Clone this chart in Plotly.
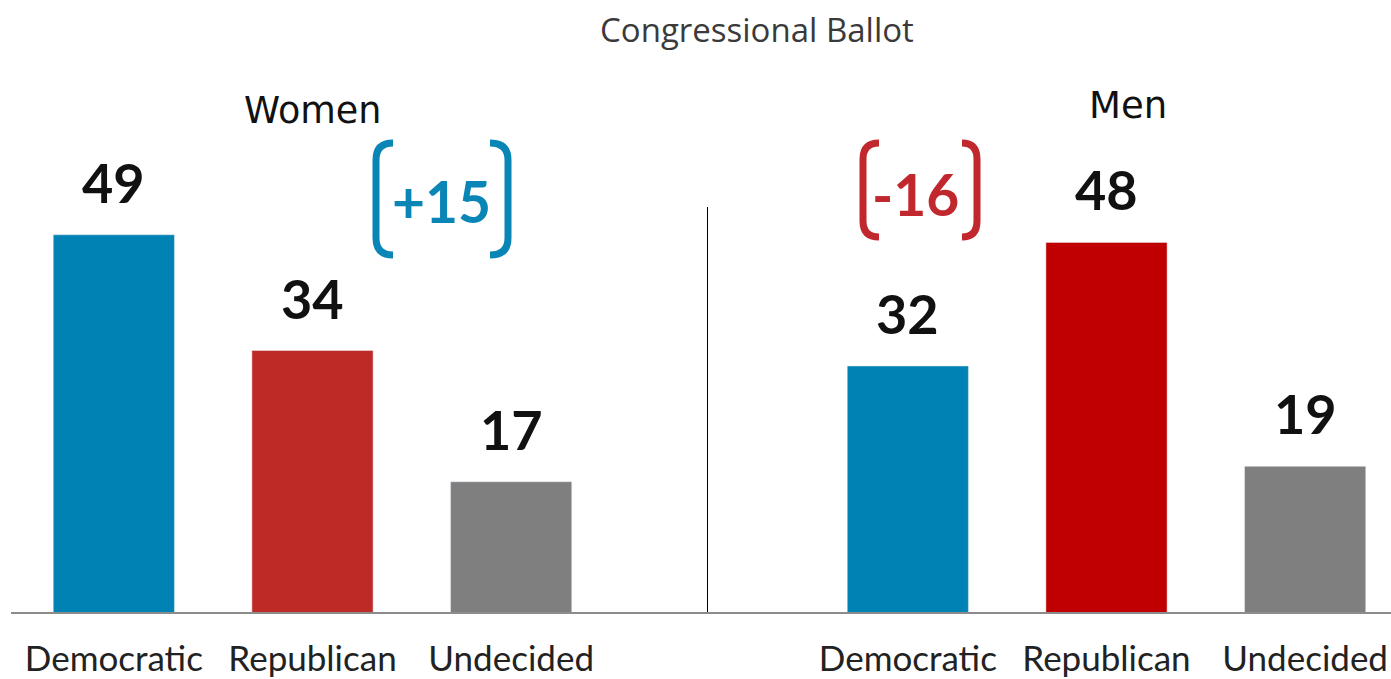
import plotly.graph_objects as go

categories = ["Democratic", "Republican", "Undecided"]
women_values = [49, 34, 17]
men_values = [32, 48, 19]
women_colors = ["#0083B4", "#BE2A26", "#7F7F7F"]
men_colors = ["#0083B4", "#C00000", "#7F7F7F"]
women_gap_label = "+15"
men_gap_label = "-16"
title_text = "Congressional Ballot"

W, H = 1391, 679
BASE = 613            # pixel y of the baseline
MB = H - BASE         # bottom margin
PH = BASE             # plot height
PX_PER_UNIT = 7.72


def px(x):
    return x / W


def py(y):
    return (BASE - y) / PH


FONT = "Lato"

fig = go.Figure()
fig.add_trace(go.Bar(x=categories, y=women_values, marker_color=women_colors,
                     width=0.61, xaxis="x", yaxis="y", showlegend=False))
fig.add_trace(go.Bar(x=categories, y=men_values, marker_color=men_colors,
                     width=0.61, xaxis="x2", yaxis="y2", showlegend=False))

annotations = []
for xr, yr, vals in (("x", "y", women_values), ("x2", "y2", men_values)):
    for c, v in zip(categories, vals):
        annotations.append(dict(x=c, y=v, xref=xr, yref=yr, text=str(v),
                                showarrow=False, xanchor="center", yanchor="bottom", yshift=18,
                                font=dict(family=FONT, size=54, color="#111111",
                                          weight="bold")))

common = dict(xref="paper", yref="paper", showarrow=False, xanchor="center", yanchor="middle")
annotations += [
    dict(x=px(757), y=py(30), text=title_text,
         font=dict(family="Open Sans", size=33, color="#3A3A3A"), **common),
    dict(x=px(312), y=py(110), text="Women",
         font=dict(family="DejaVu Sans", size=36.5, color="#111111"), **common),
    dict(x=px(1128), y=py(105), text="Men",
         font=dict(family="DejaVu Sans", size=37, color="#111111"), **common),
    dict(x=px(441), y=py(201), text=women_gap_label,
         font=dict(family=FONT, size=57, color="#0A86B6", weight="bold"), **common),
    dict(x=px(916), y=py(194), text=men_gap_label,
         font=dict(family=FONT, size=57, color="#C0282D", weight="bold"), **common),
]


def bracket(pts, color):
    s = ""
    for cmd, coords in pts:
        s += cmd + " " + " ".join(f"{px(a):.5f},{py(b):.5f}" for a, b in coords) + " "
    return dict(type="path", xref="paper", yref="paper", path=s.strip(),
                line=dict(color=color, width=7))


shapes = [
    bracket([("M", [(393, 143)]), ("Q", [(376, 143), (376, 160)]), ("L", [(376, 238)]),
             ("Q", [(376, 255), (393, 255)])], "#0A86B6"),
    bracket([("M", [(490, 143)]), ("Q", [(508, 143), (508, 160)]), ("L", [(508, 238)]),
             ("Q", [(508, 255), (490, 255)])], "#0A86B6"),
    bracket([("M", [(879, 143)]), ("Q", [(863, 143), (863, 159)]), ("L", [(863, 221)]),
             ("Q", [(863, 237), (879, 237)])], "#C0282D"),
    bracket([("M", [(962, 143)]), ("Q", [(977, 143), (977, 159)]), ("L", [(977, 221)]),
             ("Q", [(977, 237), (962, 237)])], "#C0282D"),
    dict(type="line", xref="paper", yref="paper", x0=px(707.5), x1=px(707.5),
         y0=0, y1=py(207), line=dict(color="#000000", width=1)),
    dict(type="line", xref="paper", yref="paper", x0=px(11), x1=1,
         y0=0, y1=0, line=dict(color="#8C8C8C", width=2)),
]

ymax = PH / PX_PER_UNIT
axis_common = dict(type="category", showgrid=False, zeroline=False, showline=False,
                   ticks="", tickfont=dict(family=FONT, size=35, color="#222222"),
                   ticklabelstandoff=22, automargin=False)

fig.update_layout(
    width=W, height=H,
    margin=dict(l=0, r=0, t=0, b=MB),
    paper_bgcolor="white", plot_bgcolor="white",
    xaxis=dict(domain=[px(14.5), px(610.5)], range=[-0.5, 2.5], anchor="y", **axis_common),
    xaxis2=dict(domain=[px(808.5), 1.0], range=[-0.5, 2.5 - (1404.5 - W) / 199],
                anchor="y2", **axis_common),
    yaxis=dict(range=[0, ymax], visible=False, domain=[0, 1]),
    yaxis2=dict(range=[0, ymax], visible=False, domain=[0, 1], anchor="x2"),
    annotations=annotations,
    shapes=shapes,
    bargap=0.39,
)

fig.write_html(
    "out.html",
    config={"displayModeBar": False},
    post_script="document.body.style.margin='0';document.body.style.overflow='hidden';",
)
